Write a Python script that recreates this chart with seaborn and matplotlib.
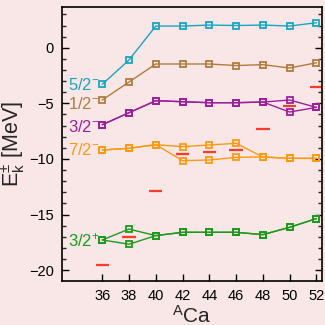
import matplotlib
matplotlib.use("Agg")
import matplotlib.pyplot as plt
import seaborn as sns
import numpy as np
from matplotlib.ticker import MultipleLocator

# mass numbers of the Ca isotopes
mass = [36, 38, 40, 42, 44, 46, 48, 50, 52]

# single-particle energies (MeV); split levels are given as two branches
e_52m = [-3.29, -1.10, 1.95, 1.95, 2.04, 2.00, 2.04, 1.95, 2.25]
e_12m = [-4.70, -3.08, -1.46, -1.46, -1.46, -1.60, -1.52, -1.82, -1.35]
e_32m_a = [-6.92, -5.84, -4.76, -4.85, -4.94, -4.94, -4.88, -4.70, -5.36]
e_32m_b = [-6.92, -5.84, -4.76, -4.85, -4.94, -4.94, -4.88, -5.78, -5.36]
e_72m_a = [-9.19, -9.04, -8.71, -8.89, -8.74, -8.59, -9.82, -9.94, -9.94]
e_72m_b = [-9.19, -9.04, -8.71, -10.15, -10.09, -9.85, -9.82, -9.94, -9.94]
e_32p_a = [-17.28, -16.30, -16.89, -16.59, -16.59, -16.59, -16.80, -16.14, -15.36]
e_32p_b = [-17.28, -17.66, -16.89, -16.59, -16.59, -16.59, -16.80, -16.14, -15.36]

# experimental values (red dashes)
exp_mass = [36, 38, 40, 42, 44, 46, 48, 50, 52]
exp_energy = [-19.52, -16.98, -12.85, -9.52, -9.40, -9.22, -7.33, -5.25, -3.53]

level_names = ["5/2$^{-}$", "1/2$^{-}$", "3/2$^{-}$", "7/2$^{-}$", "3/2$^{+}$"]
level_label_y = [-3.35, -5.1, -7.1, -9.2, -17.3]

bg = "#f9e6e6"
colors = ["#16a6c2", "#b07b3e", "#9c209c", "#ff9a10", "#1d9a1d"]
red = "#ff3a28"

sns.set_theme(style="ticks")
plt.rcParams["font.family"] = ["Liberation Sans", "DejaVu Sans"]
plt.rcParams["mathtext.fontset"] = "custom"
plt.rcParams["mathtext.rm"] = "Liberation Sans"
plt.rcParams["mathtext.it"] = "Liberation Sans:italic"

fig = plt.figure(figsize=(3.25, 3.25), dpi=100, facecolor=bg)
ax = fig.add_axes([0.191, 0.136, 0.799, 0.842])
ax.set_facecolor(bg)

branches = [
    (e_52m, colors[0]),
    (e_12m, colors[1]),
    (e_32m_a, colors[2]), (e_32m_b, colors[2]),
    (e_72m_a, colors[3]), (e_72m_b, colors[3]),
    (e_32p_a, colors[4]), (e_32p_b, colors[4]),
]
for vals, c in branches:
    sns.lineplot(x=mass, y=vals, ax=ax, color=c, lw=1.0, marker="s",
                 markersize=4.2, markerfacecolor="none", markeredgecolor=c,
                 markeredgewidth=1.3, estimator=None, sort=False)

m = np.array(exp_mass)
ax.hlines(exp_energy, m - 0.5, m + 0.5, color=red, lw=1.6)

for name, yv, c in zip(level_names, level_label_y, colors):
    ax.text(33.45, yv, name, color=c, fontsize=12, va="center", ha="left")

ax.set_xlim(33.0, 52.4)
ax.set_ylim(-20.95, 3.65)
ax.set_xticks(mass)
ax.yaxis.set_major_locator(MultipleLocator(5))
ax.yaxis.set_minor_locator(MultipleLocator(1))
ax.tick_params(axis="both", which="major", direction="in", length=5, width=1,
               labelsize=10.5, color="black", labelcolor="black", pad=6)
ax.tick_params(axis="y", which="both", right=True, direction="in")
ax.tick_params(axis="y", which="minor", length=3, width=1)
for s in ax.spines.values():
    s.set_visible(True)
    s.set_color("black")
    s.set_linewidth(1.2)

ax.set_xlabel("$^{\\mathrm{A}}$Ca", fontsize=15, labelpad=1)
ax.set_ylabel("E$_{\\mathrm{k}}^{\\pm}$ [MeV]", fontsize=15.5, labelpad=1)

fig.savefig("out.png", dpi=100, facecolor=bg)
